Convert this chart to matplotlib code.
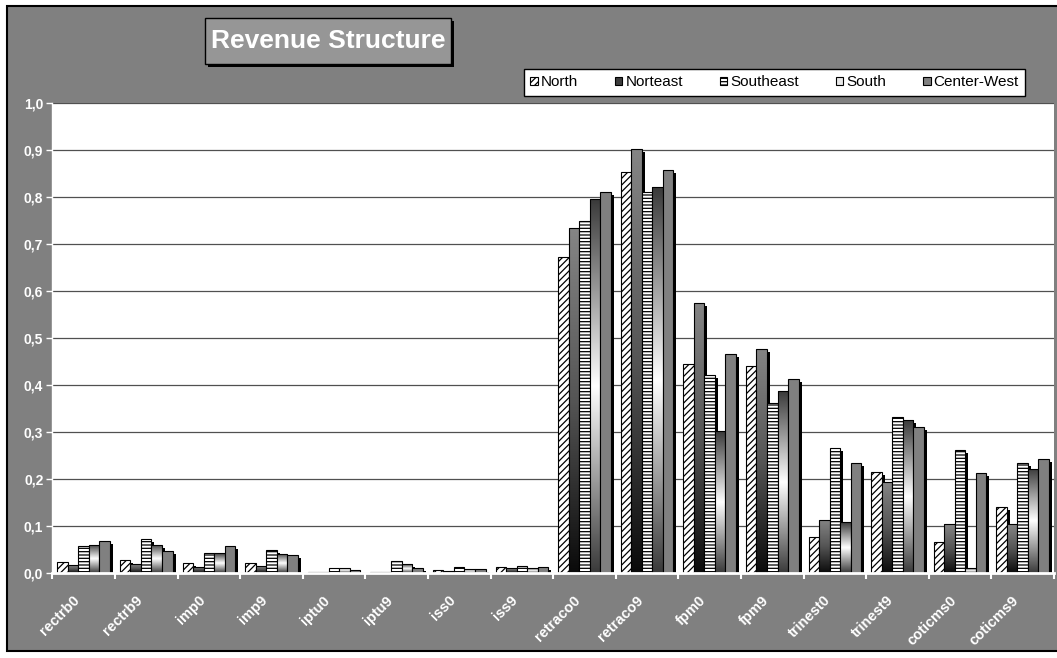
import numpy as np
import matplotlib
matplotlib.use("Agg")
import matplotlib.pyplot as plt
from matplotlib.patches import Rectangle, Patch
from matplotlib.colors import LinearSegmentedColormap
from matplotlib.transforms import ScaledTranslation, blended_transform_factory

plt.rcParams["font.family"] = ["Liberation Sans", "DejaVu Sans"]
plt.rcParams["hatch.linewidth"] = 0.9

# ---- data -------------------------------------------------------------
categories = ["rectrb0", "rectrb9", "imp0", "imp9", "iptu0", "iptu9",
              "iss0", "iss9", "retraco0", "retraco9", "fpm0", "fpm9",
              "trinest0", "trinest9", "coticms0", "coticms9"]
series_names = ["North", "Norteast", "Southeast", "South", "Center-West"]

north = [0.024, 0.027, 0.021, 0.021, 0.002, 0.002, 0.007, 0.013,
         0.672, 0.853, 0.444, 0.441, 0.077, 0.215, 0.065, 0.141]
norteast = [0.017, 0.019, 0.013, 0.014, 0.002, 0.002, 0.004, 0.010,
            0.734, 0.903, 0.575, 0.477, 0.113, 0.193, 0.104, 0.104]
southeast = [0.058, 0.073, 0.042, 0.049, 0.011, 0.025, 0.013, 0.014,
             0.750, 0.811, 0.422, 0.362, 0.267, 0.331, 0.261, 0.235]
south = [0.060, 0.060, 0.042, 0.041, 0.011, 0.019, 0.008, 0.010,
         0.795, 0.821, 0.302, 0.387, 0.108, 0.325, 0.010, 0.222]
center_west = [0.068, 0.047, 0.058, 0.039, 0.007, 0.010, 0.008, 0.012,
               0.811, 0.858, 0.465, 0.412, 0.235, 0.310, 0.212, 0.243]

y_ticks = [0.0, 0.1, 0.2, 0.3, 0.4, 0.5, 0.6, 0.7, 0.8, 0.9, 1.0]
title = "Revenue Structure"

values = [north, norteast, southeast, south, center_west]

# ---- figure & chart area ----------------------------------------------
W, H = 1057, 658
fig = plt.figure(figsize=(W / 100, H / 100), dpi=100, facecolor="white")


def fig_rect(x0, y0, x1, y1, **kw):
    """Rectangle given in pixel coordinates measured from the top-left."""
    r = Rectangle((x0 / W, 1 - y1 / H), (x1 - x0) / W, (y1 - y0) / H,
                  transform=fig.transFigure, **kw)
    fig.add_artist(r)
    return r


fig_rect(7, 6, W + 20, 651, facecolor="#808080", edgecolor="black",
         lw=1.5, zorder=0)

# title box with drop shadow
fig_rect(208, 21, 454, 67, facecolor="black", edgecolor="none", zorder=1)
fig_rect(205, 18, 451, 64, facecolor="#969696", edgecolor="black",
         lw=1.0, zorder=2)
fig.text(328 / W, 1 - 41.5 / H, title, ha="center", va="center",
         color="white", fontsize=19, fontweight="bold", zorder=3)

# plot area
ax_left, ax_right, ax_top, ax_bottom = 52.3, 1054, 103, 573
ax = fig.add_axes([ax_left / W, 1 - ax_bottom / H,
                   (ax_right - ax_left) / W, (ax_bottom - ax_top) / H])
ax.set_facecolor("white")

n = len(categories)
x = np.arange(n)
bw = 0.168
offsets = (np.arange(len(series_names)) - 2) * bw

shadow = ax.transData + ScaledTranslation(3 / 100, -3 / 100,
                                          fig.dpi_scale_trans)

cmap_ne = LinearSegmentedColormap.from_list("ne", ["#0a0a0a", "#555555",
                                                   "#858585"])
cmap_s = LinearSegmentedColormap.from_list("s", ["#3a3a3a", "#ffffff",
                                                 "#3a3a3a"])
grad = np.linspace(0, 1, 256).reshape(-1, 1)

styles = {
    "North": dict(hatch="/////"),
    "Norteast": dict(cmap=cmap_ne),
    "Southeast": dict(hatch="-----"),
    "South": dict(cmap=cmap_s),
    "Center-West": dict(color="#808080"),
}

for s, (name, vals) in enumerate(zip(series_names, values)):
    xs = x + offsets[s]
    z = 3 + s
    ax.bar(xs, vals, bw, color="black", lw=0, transform=shadow, zorder=z)
    st = styles[name]
    if "hatch" in st:
        ax.bar(xs, vals, bw, facecolor="white", edgecolor="black",
               hatch=st["hatch"], lw=0.8, zorder=z + 0.5)
    elif "cmap" in st:
        bars = ax.bar(xs, vals, bw, facecolor="none", edgecolor="black",
                      lw=0.8, zorder=z + 0.6)
        for b in bars:
            x0, h = b.get_x(), b.get_height()
            im = ax.imshow(grad, extent=[x0, x0 + b.get_width(), 0, h],
                           origin="lower", aspect="auto", cmap=st["cmap"],
                           vmin=0, vmax=1, interpolation="bilinear",
                           zorder=z + 0.3)
            im.set_clip_path(b)
    else:
        ax.bar(xs, vals, bw, facecolor=st["color"], edgecolor="black",
               lw=0.8, zorder=z + 0.5)

ax.set_xlim(-0.5, n - 0.5)
ax.set_ylim(0, 1.0)

# axes styling
ax.set_yticks(y_ticks)
ax.set_yticklabels([f"{v:.1f}".replace(".", ",") for v in y_ticks],
                   fontweight="bold")
ax.tick_params(axis="y", colors="white", length=4.5, width=1.0, pad=2,
               labelsize=10)
ax.set_xticks(np.arange(n + 1) - 0.5)
ax.tick_params(axis="x", colors="white", length=4, width=1.5,
               labelbottom=False)
ax.yaxis.grid(True, color="#505050", lw=0.9)
ax.set_axisbelow(True)
for side in ("top", "right"):
    ax.spines[side].set_visible(False)
ax.spines["left"].set_color("white")
ax.spines["left"].set_linewidth(1.0)
ax.spines["bottom"].set_color("white")
ax.spines["bottom"].set_linewidth(2.0)
ax.spines["bottom"].set_zorder(20)

# rotated category labels
lab_tr = blended_transform_factory(ax.transData, ax.transAxes) + \
    ScaledTranslation(-6 / 100, -25 / 100, fig.dpi_scale_trans)
for i, c in enumerate(categories):
    ax.text(i, 0, c, transform=lab_tr, rotation=45, rotation_mode="anchor",
            ha="right", va="center", color="white", fontsize=10.5,
            fontweight="bold", clip_on=False)

# legend
handles = [
    Patch(facecolor="white", edgecolor="black", hatch="/////", lw=0.8),
    Patch(facecolor="#3c3c3c", edgecolor="black", lw=0.8),
    Patch(facecolor="white", edgecolor="black", hatch="-----", lw=0.8),
    Patch(facecolor="#e8e8e8", edgecolor="black", lw=0.8),
    Patch(facecolor="#808080", edgecolor="black", lw=0.8),
]
leg = fig.legend(handles, series_names, loc="center",
                 bbox_to_anchor=(774.5 / W, 1 - 82.5 / H), ncol=5,
                 fontsize=11, frameon=True, fancybox=False,
                 edgecolor="black", facecolor="white", framealpha=1,
                 handlelength=0.5, handleheight=0.5, handletextpad=0.2,
                 columnspacing=2.4, borderpad=0.42, borderaxespad=0)
leg.get_frame().set_linewidth(1.0)

fig.savefig("out.png", dpi=100, facecolor="white")
